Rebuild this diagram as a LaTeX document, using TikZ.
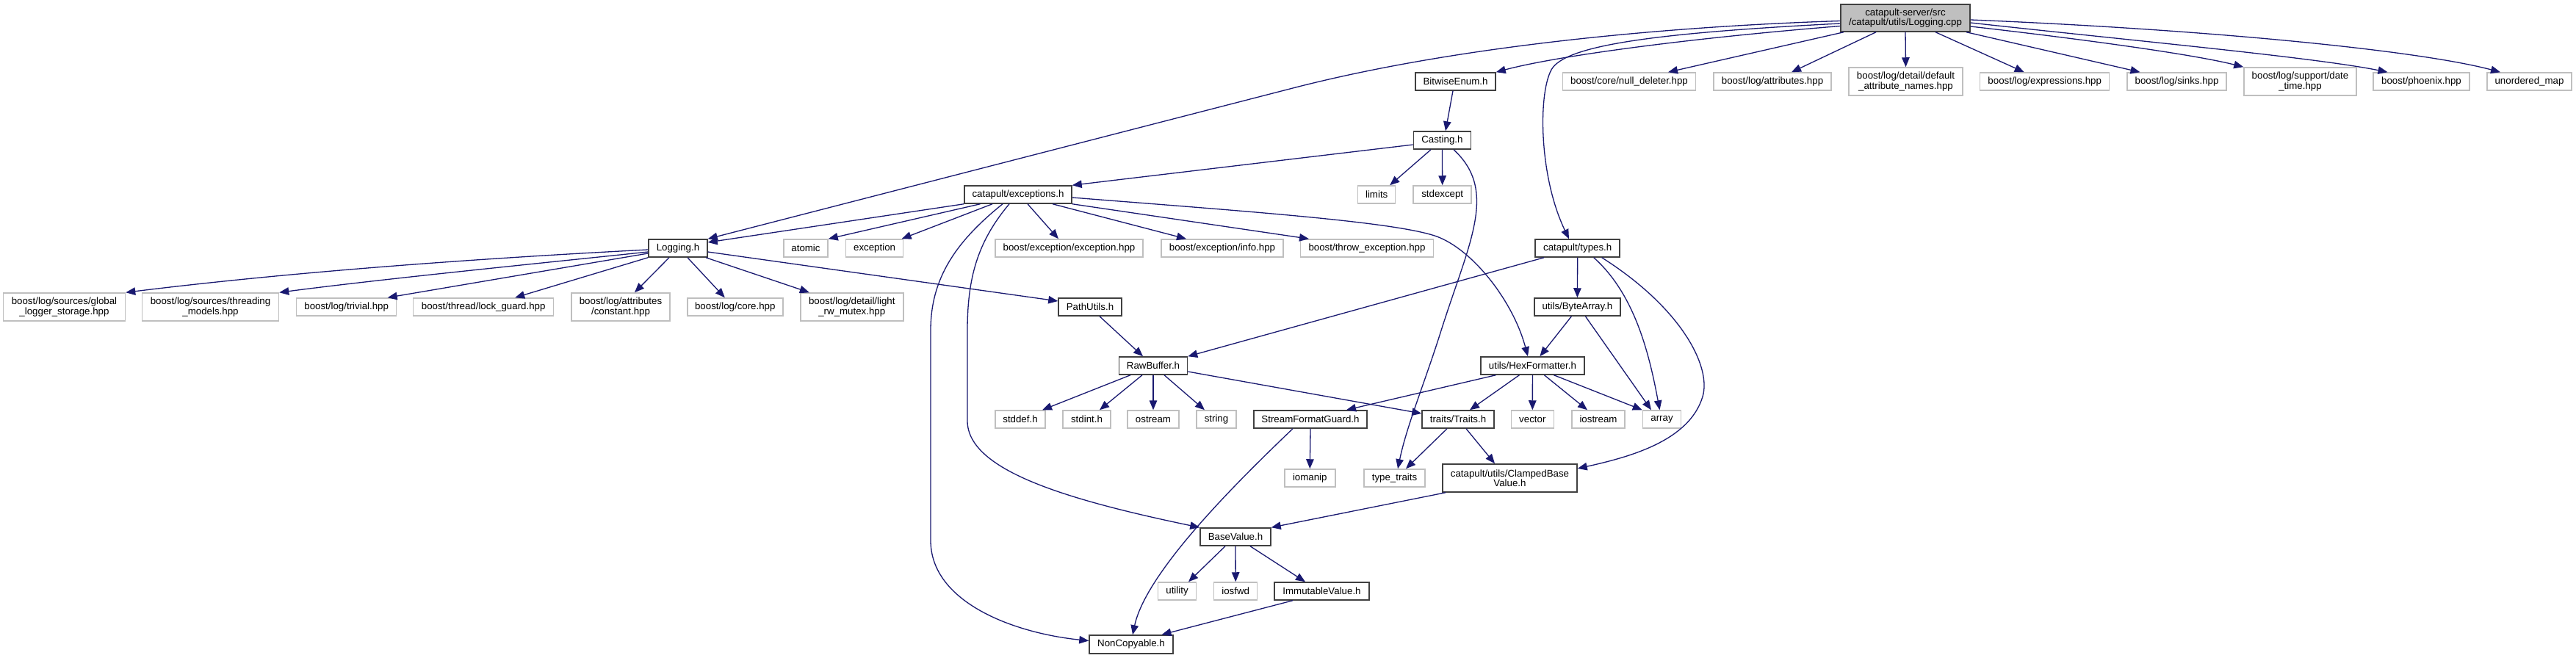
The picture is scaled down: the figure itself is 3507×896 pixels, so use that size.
\documentclass[tikz,border=0pt]{standalone}
\usepackage{fontspec}
\setmainfont{Liberation Sans}
\usetikzlibrary{arrows.meta}
\definecolor{navy}{HTML}{191970}
\definecolor{gray75}{HTML}{BFBFBF}
\definecolor{dkgray}{HTML}{404040}
\newcommand\nodefont{\fontsize{13.3}{13.5}\selectfont}
\tikzset{
  basebox/.style={draw, rectangle, inner sep=0pt, align=center, font=\nodefont, line width=1.5pt, text=black},
  dk/.style={basebox, draw=dkgray, fill=white},
  ext/.style={basebox, draw=gray75, fill=white},
  mainnode/.style={basebox, draw=dkgray, fill=gray75},
  dep/.style={draw=navy, line width=1.3pt, -{Triangle[length=13pt,width=10.5pt]}},
}
\begin{document}
\begin{tikzpicture}[x=1pt,y=-1pt]
\fill[white] (0,0) rectangle (3507,896);
\useasboundingbox (0,0) rectangle (3507,896);

% row 0
\node[mainnode, minimum width=176pt, minimum height=37pt] (M) at (2594,24.5) {catapult-server/src\\/catapult/utils/Logging.cpp};
% row 1
\node[dk,  minimum width=109pt, minimum height=24pt] (B)  at (1981.5,111) {BitwiseEnum.h};
\node[ext, minimum width=181pt, minimum height=24pt] (ND) at (2218,111) {boost/core/null\_deleter.hpp};
\node[ext, minimum width=160pt, minimum height=24pt] (AT) at (2413,111) {boost/log/attributes.hpp};
\node[ext, minimum width=155pt, minimum height=38pt] (DA) at (2594.5,111) {boost/log/detail/default\\\_attribute\_names.hpp};
\node[ext, minimum width=176pt, minimum height=24pt] (EX) at (2783.7,111) {boost/log/expressions.hpp};
\node[ext, minimum width=135pt, minimum height=24pt] (SK) at (2963.5,111) {boost/log/sinks.hpp};
\node[ext, minimum width=153pt, minimum height=38pt] (DT) at (3131.5,111) {boost/log/support/date\\\_time.hpp};
\node[ext, minimum width=131pt, minimum height=24pt] (PH) at (3296.5,111) {boost/phoenix.hpp};
\node[ext, minimum width=115pt, minimum height=24pt] (UM) at (3443.5,111) {unordered\_map};
% row 2
\node[dk,  minimum width=78pt, minimum height=24pt] (C) at (1963.4,191) {Casting.h};
% row 3
\node[ext, minimum width=51pt,  minimum height=24pt] (LI) at (1874.2,265) {limits};
\node[ext, minimum width=79pt,  minimum height=24pt] (SE) at (1963.7,265) {stdexcept};
\node[dk,  minimum width=146pt, minimum height=24pt] (E)  at (1386,265) {catapult/exceptions.h};
% row 4
\node[dk,  minimum width=80pt,  minimum height=24pt] (L)   at (923,338) {Logging.h};
\node[ext, minimum width=60pt,  minimum height=24pt] (AO)  at (1097,338) {atomic};
\node[ext, minimum width=78pt,  minimum height=24pt] (EXC) at (1190.6,338) {exception};
\node[ext, minimum width=201pt, minimum height=24pt] (BEE) at (1455.5,338) {boost/exception/exception.hpp};
\node[ext, minimum width=166pt, minimum height=24pt] (BEI) at (1664,338) {boost/exception/info.hpp};
\node[ext, minimum width=181pt, minimum height=24pt] (TE)  at (1861,338) {boost/throw\_exception.hpp};
\node[dk,  minimum width=115pt, minimum height=24pt] (T)   at (2147.7,338) {catapult/types.h};
% row 5
\node[ext, minimum width=166pt, minimum height=38pt] (GLS) at (87.5,418) {boost/log/sources/global\\\_logger\_storage.hpp};
\node[ext, minimum width=186pt, minimum height=38pt] (THM) at (286.5,418) {boost/log/sources/threading\\\_models.hpp};
\node[ext, minimum width=136pt, minimum height=24pt] (TR)  at (471.7,418) {boost/log/trivial.hpp};
\node[ext, minimum width=191pt, minimum height=24pt] (LG)  at (658.2,418) {boost/thread/lock\_guard.hpp};
\node[ext, minimum width=134pt, minimum height=38pt] (AC)  at (845,418) {boost/log/attributes\\/constant.hpp};
\node[ext, minimum width=130pt, minimum height=24pt] (CO)  at (1000.8,418) {boost/log/core.hpp};
\node[ext, minimum width=140pt, minimum height=38pt] (LRW) at (1159.8,418) {boost/log/detail/light\\\_rw\_mutex.hpp};
\node[dk,  minimum width=86pt,  minimum height=24pt] (PU)  at (1484,418) {PathUtils.h};
\node[dk,  minimum width=117pt, minimum height=24pt] (BA)  at (2147.4,418) {utils/ByteArray.h};
% row 6
\node[dk, minimum width=93pt,  minimum height=24pt] (RB) at (1570,498) {RawBuffer.h};
\node[dk, minimum width=141pt, minimum height=24pt] (HF) at (2086.4,498) {utils/HexFormatter.h};
% row 7
\node[ext, minimum width=68pt,  minimum height=24pt] (SD)  at (1389,571) {stddef.h};
\node[ext, minimum width=65pt,  minimum height=24pt] (SI)  at (1479.5,571) {stdint.h};
\node[ext, minimum width=70pt,  minimum height=24pt] (OS)  at (1570,571) {ostream};
\node[ext, minimum width=54pt,  minimum height=24pt] (ST)  at (1656,571) {string};
\node[dk,  minimum width=154pt, minimum height=24pt] (SF)  at (1784,571) {StreamFormatGuard.h};
\node[dk,  minimum width=98pt,  minimum height=24pt] (TRT) at (1985,571) {traits/Traits.h};
\node[ext, minimum width=58pt,  minimum height=24pt] (VE)  at (2086.3,571) {vector};
\node[ext, minimum width=72pt,  minimum height=24pt] (IO)  at (2176,571) {iostream};
\node[ext, minimum width=52pt,  minimum height=24pt] (AR)  at (2262.5,571) {array};
% row 8
\node[ext, minimum width=69pt,  minimum height=24pt] (IM) at (1783.3,651) {iomanip};
\node[ext, minimum width=83pt,  minimum height=24pt] (TT) at (1898.5,651) {type\_traits};
\node[dk,  minimum width=183pt, minimum height=38pt] (CB) at (2055.5,651) {catapult/utils/ClampedBase\\Value.h};
% row 9
\node[dk, minimum width=96pt, minimum height=24pt] (BV) at (1682,731) {BaseValue.h};
% row 10
\node[ext, minimum width=52pt,  minimum height=24pt] (UT) at (1602.5,805) {utility};
\node[ext, minimum width=59pt,  minimum height=24pt] (IF) at (1682.2,805) {iosfwd};
\node[dk,  minimum width=129pt, minimum height=24pt] (IV) at (1799.5,805) {ImmutableValue.h};
% row 11
\node[dk, minimum width=114pt, minimum height=25pt] (NC) at (1540,877.5) {NonCopyable.h};

% edges from main
\draw[dep] ([yshift=-4pt]M.west) .. controls (2300,35) and (2000,58) .. (1760,120) -- (L.north east);
\draw[dep] ([yshift=-11pt]M.west) .. controls (2300,52) and (2120,76) .. (B.north east);
\draw[dep] ([yshift=-7.5pt]M.west) .. controls (2250,45) and (2130,62) .. (2112,95) .. controls (2094,128) and (2095,240) .. ([xshift=-11.7pt]T.north);
\draw[dep] ([xshift=-84pt]M.south) -- ([xshift=53pt]ND.north);
\draw[dep] ([xshift=-40pt]M.south) -- ([xshift=26pt]AT.north);
\draw[dep] (M.south) -- (DA.north);
\draw[dep] ([xshift=41pt]M.south) -- ([xshift=-28pt]EX.north);
\draw[dep] ([xshift=83pt]M.south) -- ([xshift=-50pt]SK.north);
\draw[dep] ([yshift=-11.5pt]M.east) .. controls (2850,55) and (2990,75) .. (DT.north west);
\draw[dep] ([yshift=-6.5pt]M.east) .. controls (2900,55) and (3150,78) .. ([xshift=-46pt]PH.north);
\draw[dep] ([yshift=-2.5pt]M.east) .. controls (3000,40) and (3290,68) .. ([xshift=-39.5pt]UM.north);

% BitwiseEnum, Casting
\draw[dep] ([xshift=-3.5pt]B.south) -- ([xshift=4.6pt]C.north);
\draw[dep] ([yshift=-6pt]C.west) -- (E.north east);
\draw[dep] ([xshift=-15.4pt]C.south) -- ([xshift=18pt]LI.north);
\draw[dep] (C.south) -- (SE.north);
\draw[dep] ([xshift=15.6pt]C.south) .. controls (2040,260) and (2000,330) .. (1962,450) .. controls (1940,520) and (1915,580) .. ([xshift=4.5pt]TT.north);

% exceptions.h
\draw[dep] (E.south west) -- ([yshift=8pt]L.east);
\draw[dep] ([xshift=-51.5pt]E.south) -- (AO.north east);
\draw[dep] ([xshift=-35pt]E.south) -- ([xshift=37pt]EXC.north);
\draw[dep] ([xshift=-21pt]E.south) .. controls (1300,330) and (1267,380) .. (1267,450) -- (1267,736) .. controls (1267,820) and (1380,862) .. ([yshift=5pt]NC.west);
\draw[dep] ([xshift=-12pt]E.south) .. controls (1330,330) and (1317,380) .. (1317,450) -- (1317,573) .. controls (1317,640) and (1450,680) .. (BV.north west);
\draw[dep] ([xshift=13pt]E.south) -- ([xshift=-14.5pt]BEE.north);
\draw[dep] ([xshift=47pt]E.south) -- ([xshift=-49pt]BEI.north);
\draw[dep] (E.south east) -- ([xshift=-79pt]TE.north);
\draw[dep] ([yshift=-4pt]E.east) .. controls (1700,288) and (1900,302) .. (1956,322) .. controls (2005,340) and (2060,410) .. ([xshift=-6.4pt]HF.north);

% Logging.h
\draw[dep] ([yshift=-2pt]L.west) .. controls (650,352) and (400,370) .. (GLS.north east);
\draw[dep] ([yshift=-5pt]L.west) .. controls (720,360) and (520,380) .. (THM.north east);
\draw[dep] ([yshift=-7pt]L.west) -- ([xshift=56pt]TR.north);
\draw[dep] (L.south west) -- ([xshift=43pt]LG.north);
\draw[dep] ([xshift=-12pt]L.south) -- ([xshift=19pt]AC.north);
\draw[dep] ([xshift=13pt]L.south) -- ([xshift=-14pt]CO.north);
\draw[dep] ([xshift=38pt]L.south) -- ([xshift=-58pt]LRW.north);
\draw[dep] ([yshift=-5pt]L.east) -- ([yshift=8pt]PU.west);

% PathUtils
\draw[dep] ([xshift=13pt]PU.south) -- ([xshift=-14pt]RB.north);

% types.h
\draw[dep] ([xshift=-45.7pt]T.south) -- (RB.north east);
\draw[dep] (T.south) -- (BA.north);
\draw[dep] ([xshift=22pt]T.south) .. controls (2225,400) and (2245,480) .. ([xshift=-3pt]AR.north);
\draw[dep] ([xshift=33pt]T.south) .. controls (2290,420) and (2330,500) .. (2318,540) .. controls (2300,600) and (2220,622) .. ([yshift=13pt]CB.east);

% ByteArray
\draw[dep] ([xshift=-8pt]BA.south) -- ([xshift=10pt]HF.north);
\draw[dep] ([xshift=11pt]BA.south) -- ([xshift=-14.5pt]AR.north);

% HexFormatter
\draw[dep] ([xshift=-50pt]HF.south) -- ([xshift=49pt]SF.north);
\draw[dep] ([xshift=-18pt]HF.south) -- ([xshift=16pt]TRT.north);
\draw[dep] (HF.south) -- (VE.north);
\draw[dep] ([xshift=16pt]HF.south) -- ([xshift=-15pt]IO.north);
\draw[dep] ([xshift=29pt]HF.south) -- (AR.north west);

% RawBuffer
\draw[dep] ([xshift=-31pt]RB.south) -- ([xshift=30pt]SD.north);
\draw[dep] ([xshift=-15pt]RB.south) -- ([xshift=17.5pt]SI.north);
\draw[dep] (RB.south) -- (OS.north);
\draw[dep] ([xshift=15pt]RB.south) -- ([xshift=-16pt]ST.north);
\draw[dep] ([yshift=-8pt]RB.east) -- ([yshift=8pt]TRT.west);

% StreamFormatGuard
\draw[dep] (SF.south) -- (IM.north);
\draw[dep] ([xshift=-24pt]SF.south) .. controls (1680,660) and (1560,780) .. ([xshift=2pt]NC.north);

% Traits
\draw[dep] ([xshift=-15pt]TRT.south) -- ([xshift=15.5pt]TT.north);
\draw[dep] ([xshift=11pt]TRT.south) -- ([xshift=-20.5pt]CB.north);

% ClampedBaseValue
\draw[dep] ([xshift=-87.5pt]CB.south) -- (BV.north east);

% BaseValue
\draw[dep] ([xshift=-14pt]BV.south) -- ([xshift=15.5pt]UT.north);
\draw[dep] (BV.south) -- (IF.north);
\draw[dep] ([xshift=20pt]BV.south) -- ([xshift=-22.5pt]IV.north);

% ImmutableValue
\draw[dep] ([xshift=-39.5pt]IV.south) -- ([xshift=41.5pt]NC.north);
\end{tikzpicture}
\end{document}
